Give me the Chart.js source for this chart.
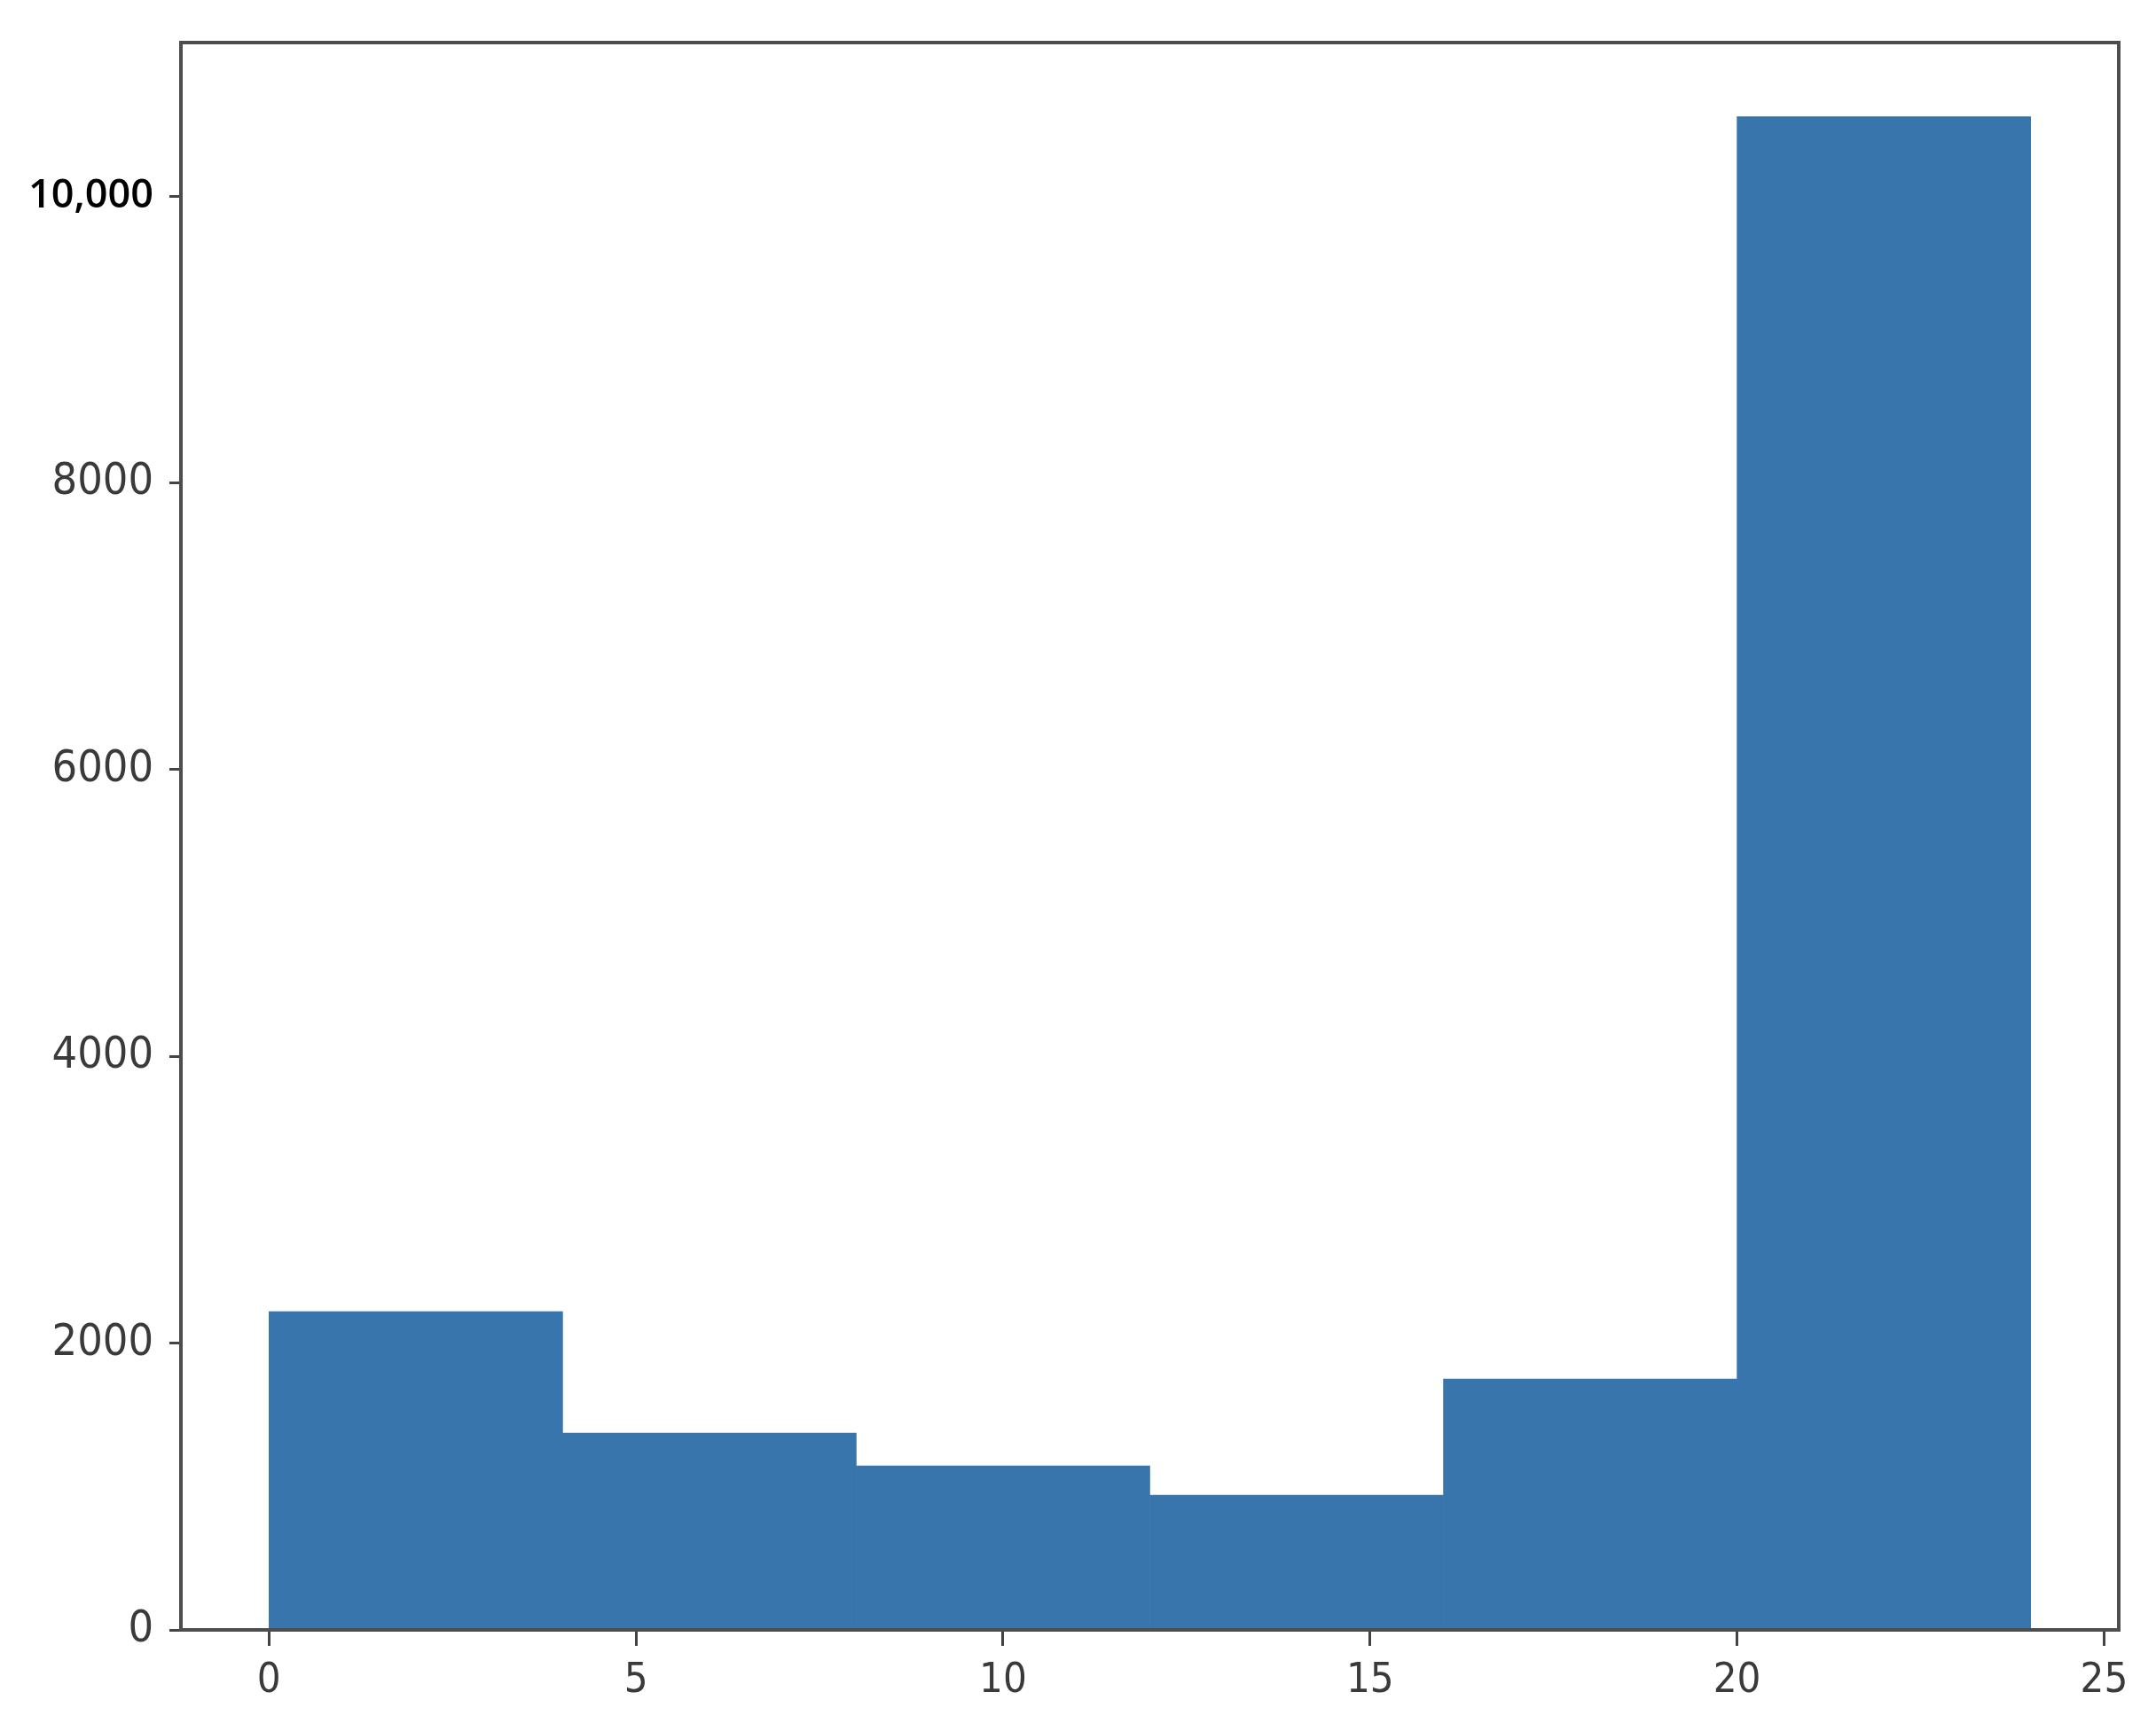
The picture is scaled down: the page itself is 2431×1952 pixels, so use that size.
<!DOCTYPE html>
<html>
<head>
<meta charset="utf-8">
<script src="https://cdn.jsdelivr.net/npm/chart.js@4.4.0/dist/chart.umd.min.js"></script>
<style>
  html, body { margin: 0; padding: 0; background: #fff; }
  canvas { display: block; }
</style>
</head>
<body>
<canvas id="histChart" width="2431" height="1952"></canvas>
<script>
// histogram bins (edges 0..24, width 4)
var binCenters = [2, 6, 10, 14, 18, 22];
var binCounts = [2220, 1373, 1144, 940, 1750, 10553];
var xTickValues = [0, 5, 10, 15, 20, 25];
var yTickValues = [0, 2000, 4000, 6000, 8000, 10000];

// condensed look for the tick labels (stretch keyword goes into the font shorthand)
var narrowFamily = "'DejaVu Sans', sans-serif";

// top/right frame like matplotlib
var framePlugin = {
    id: 'frame',
    afterDraw: function(chart) {
        var a = chart.chartArea;
        var ctx = chart.ctx;
        ctx.save();
        ctx.strokeStyle = '#4d4d4d';
        ctx.lineWidth = 4;
        ctx.strokeRect(a.left, a.top, a.right - a.left, a.bottom - a.top);
        ctx.restore();
    }
};

var ctx = document.getElementById('histChart').getContext('2d');
var histChart = new Chart(ctx, {
    type: 'bar',
    data: {
        datasets: [{
            data: binCenters.map(function(c, i) { return { x: c, y: binCounts[i] }; }),
            backgroundColor: '#3975ad',
            borderWidth: 0,
            barPercentage: 1,
            categoryPercentage: 1
        }]
    },
    options: {
        responsive: false,
        devicePixelRatio: 1,
        animation: false,
        layout: { padding: { top: 48, right: 42, left: 0, bottom: 0 } },
        plugins: { legend: { display: false }, tooltip: { enabled: false } },
        scales: {
            x: {
                type: 'linear',
                min: -1.2,
                max: 25.2,
                offset: false,
                afterBuildTicks: function(axis) {
                    axis.ticks = xTickValues.map(function(v) { return { value: v }; });
                },
                afterFit: function(axis) { axis.height = 1952 - 1838; },
                grid: { offset: false, drawOnChartArea: false, drawTicks: true, tickLength: 18, tickColor: '#444', lineWidth: 3 },
                border: { display: false },
                ticks: {
                    color: '#3a3a3a',
                    padding: 12,
                    maxRotation: 0,
                    font: { family: narrowFamily, size: 47, weight: 'condensed' }
                }
            },
            y: {
                min: 0,
                max: 11070,
                afterBuildTicks: function(axis) {
                    axis.ticks = yTickValues.map(function(v) { return { value: v }; });
                },
                afterFit: function(axis) { axis.width = 204; },
                grid: { drawOnChartArea: false, drawTicks: true, tickLength: 13, tickColor: '#444', lineWidth: 3 },
                border: { display: false },
                ticks: {
                    padding: 18,
                    callback: function(v) { return v === 10000 ? '10,000' : String(v); },
                    color: function(c) { return c.tick && c.tick.value === 10000 ? '#000' : '#3a3a3a'; },
                    font: function(c) {
                        if (c.tick && c.tick.value === 10000) {
                            return { family: "'Open Sans', 'Liberation Sans', sans-serif", size: 45, weight: '600' };
                        }
                        return { family: narrowFamily, size: 50, weight: 'condensed' };
                    }
                }
            }
        }
    },
    plugins: [framePlugin]
});
</script>
</body>
</html>
